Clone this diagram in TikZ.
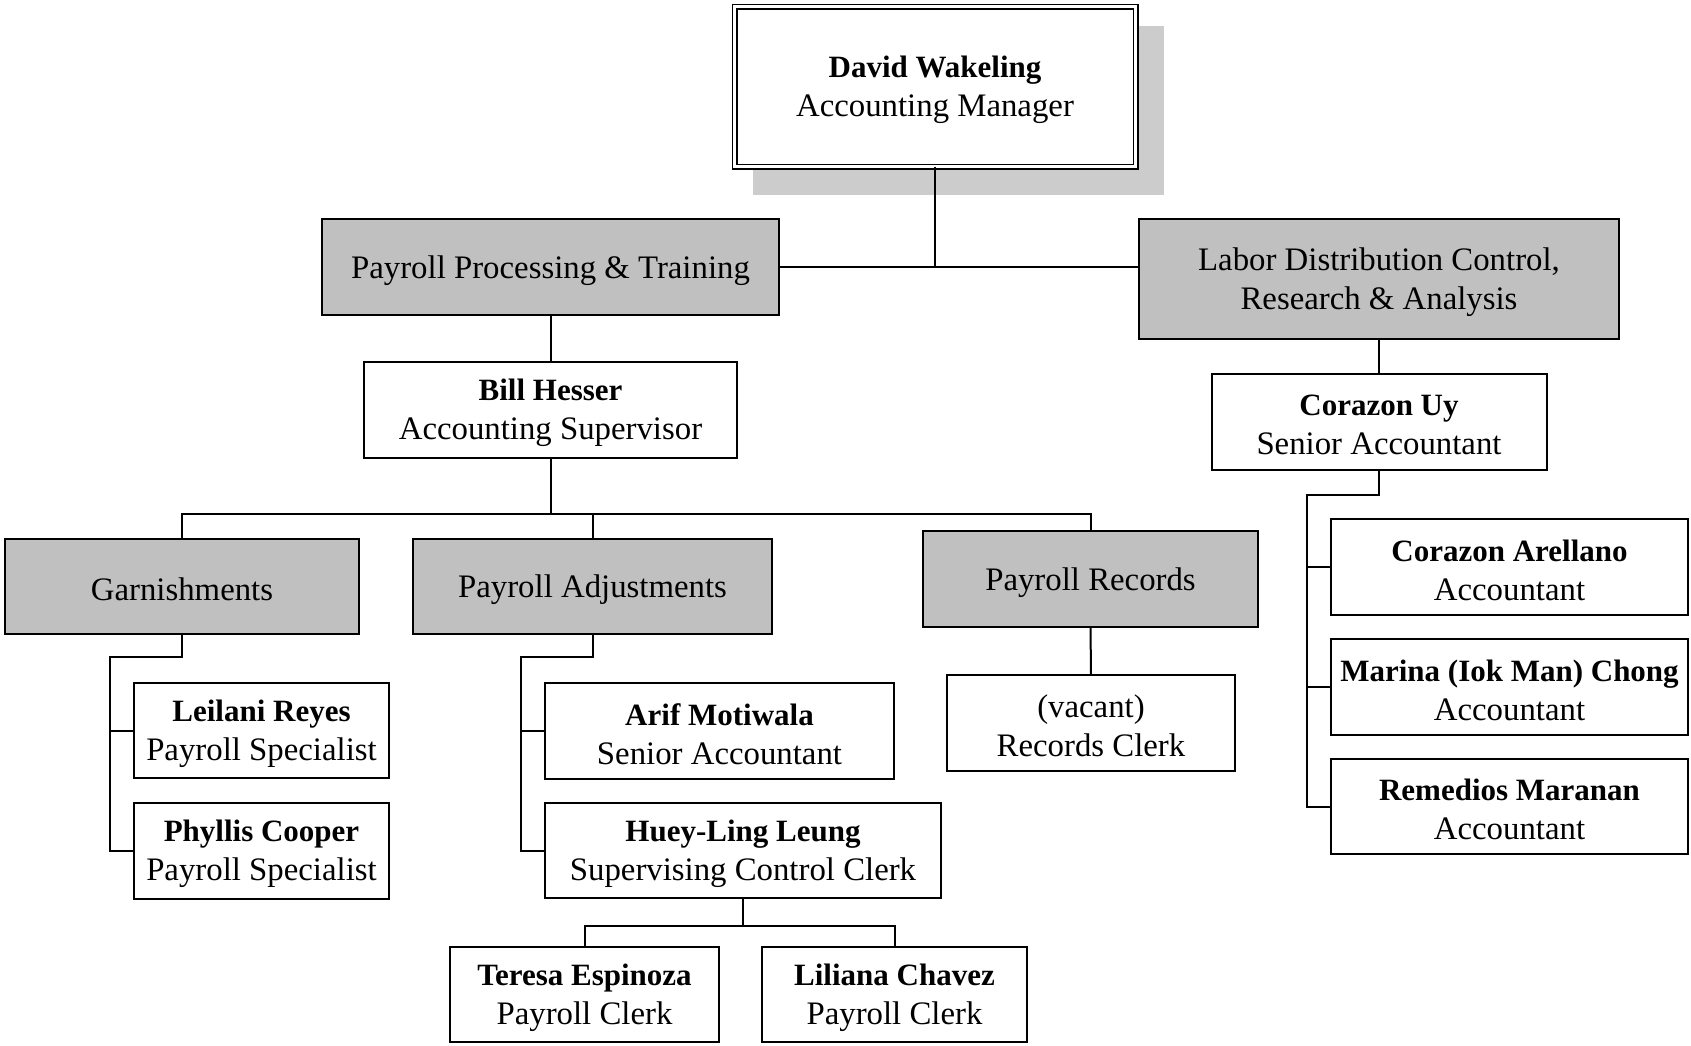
\documentclass[tikz,border=0pt]{standalone}
\usepackage{fontspec}
\setmainfont{Liberation Serif}
\definecolor{secgray}{RGB}{192,192,192}
\definecolor{shadowgray}{RGB}{204,204,204}
\newcommand{\nm}[1]{{\fontsize{15.5}{19.5}\selectfont\bfseries #1}}
\begin{document}
\begin{tikzpicture}[x=0.5pt,y=-0.5pt,
  box/.style={draw, line width=1pt, fill=white, inner sep=0pt, outer sep=0pt},
  sec/.style={box, fill=secgray},
  txt/.style={align=center, inner sep=0pt, font=\fontsize{16.4}{19.5}\selectfont},
  lbl/.style={label={[txt, yshift=-1.6pt]center:#1}},
  sz/.style 2 args={minimum width=#1*0.5pt, minimum height=#2*0.5pt},
  conn/.style={line width=1pt}]
\useasboundingbox (0,0) rectangle (1691,1045);

% shadow of top box
\fill[shadowgray] (753,26) rectangle (1164,195);

% nodes
\node[box, sz={401}{160}, line width=0.9pt, double=white, double distance=1.2pt,
  lbl={\nm{David Wakeling}\\Accounting Manager}] (top) at (935,86.5) {};
\node[sec, sz={457}{96}, lbl={Payroll Processing \& Training}] (PPT) at (550.5,267) {};
\node[sec, sz={480}{120}, lbl={Labor Distribution Control,\\Research \& Analysis}] (LDC) at (1379,279) {};
\node[box, sz={373}{96}, lbl={\nm{Bill Hesser}\\Accounting Supervisor}] (BH) at (550.5,410) {};
\node[box, sz={335}{96}, lbl={\nm{Corazon Uy}\\Senior Accountant}] (CU) at (1379,422) {};
\node[sec, sz={354}{95}, lbl={Garnishments}] (Garn) at (182,586.5) {};
\node[sec, sz={359}{95}, lbl={Payroll Adjustments}] (PA) at (592.5,586.5) {};
\node[sec, sz={335}{96}, lbl={Payroll Records}] (PR) at (1090.5,579) {};
\node[box, sz={255}{95}, lbl={\nm{Leilani Reyes}\\Payroll Specialist}] (Lei) at (261.5,730.5) {};
\node[box, sz={255}{96}, lbl={\nm{Phyllis Cooper}\\Payroll Specialist}] (Phy) at (261.5,851) {};
\node[box, sz={349}{96}, lbl={\nm{Arif Motiwala}\\Senior Accountant}] (Arif) at (719.5,731) {};
\node[box, sz={396}{95}, lbl={\nm{Huey-Ling Leung}\\Supervising Control Clerk}] (Huey) at (743,850.5) {};
\node[box, sz={269}{95}, lbl={\nm{Teresa Espinoza}\\Payroll Clerk}] (Ter) at (584.5,994.5) {};
\node[box, sz={265}{95}, lbl={\nm{Liliana Chavez}\\Payroll Clerk}] (Lil) at (894.5,994.5) {};
\node[box, sz={288}{96}, lbl={(vacant)\\Records Clerk}] (RC) at (1091,723) {};
\node[box, sz={357}{96}, lbl={\nm{Corazon Arellano}\\Accountant}] (Are) at (1509.5,567) {};
\node[box, sz={357}{96}, lbl={\nm{Marina (Iok Man) Chong}\\Accountant}] (Cho) at (1509.5,687) {};
\node[box, sz={357}{95}, lbl={\nm{Remedios Maranan}\\Accountant}] (Mar) at (1509.5,806.5) {};

% connectors
\draw[conn] (top.south) -- (top.south |- PPT.east);
\draw[conn] (PPT.east) -- (PPT.east -| LDC.west);
\draw[conn] (PPT.south) -- (BH.north);
\draw[conn] (LDC.south) -- (CU.north);
\coordinate (bus) at (550.5,514);
\draw[conn] (BH.south) -- (bus);
\draw[conn] (Garn.north) -- (Garn.north |- bus) -- (PR.north |- bus) -- (PR.north);
\draw[conn] (PA.north) -- (PA.north |- bus);
\coordinate (gj) at (110,657);
\draw[conn] (Garn.south) -- (Garn.south |- gj) -- (gj) -- (gj |- Phy.west) -- (Phy.west);
\draw[conn] (gj |- Lei.west) -- (Lei.west);
\coordinate (aj) at (521,657);
\draw[conn] (PA.south) -- (PA.south |- aj) -- (aj) -- (aj |- Huey.west) -- (Huey.west);
\draw[conn] (aj |- Arif.west) -- (Arif.west);
\coordinate (hj) at (743,926);
\draw[conn] (Huey.south) -- (hj);
\draw[conn] (Ter.north) -- (Ter.north |- hj) -- (Lil.north |- hj) -- (Lil.north);
\draw[conn] (PR.south) -- (RC.north);
\coordinate (cj) at (1307,495);
\draw[conn] (CU.south) -- (CU.south |- cj) -- (cj) -- (cj |- Mar.west) -- (Mar.west);
\draw[conn] (cj |- Are.west) -- (Are.west);
\draw[conn] (cj |- Cho.west) -- (Cho.west);
\end{tikzpicture}
\end{document}
